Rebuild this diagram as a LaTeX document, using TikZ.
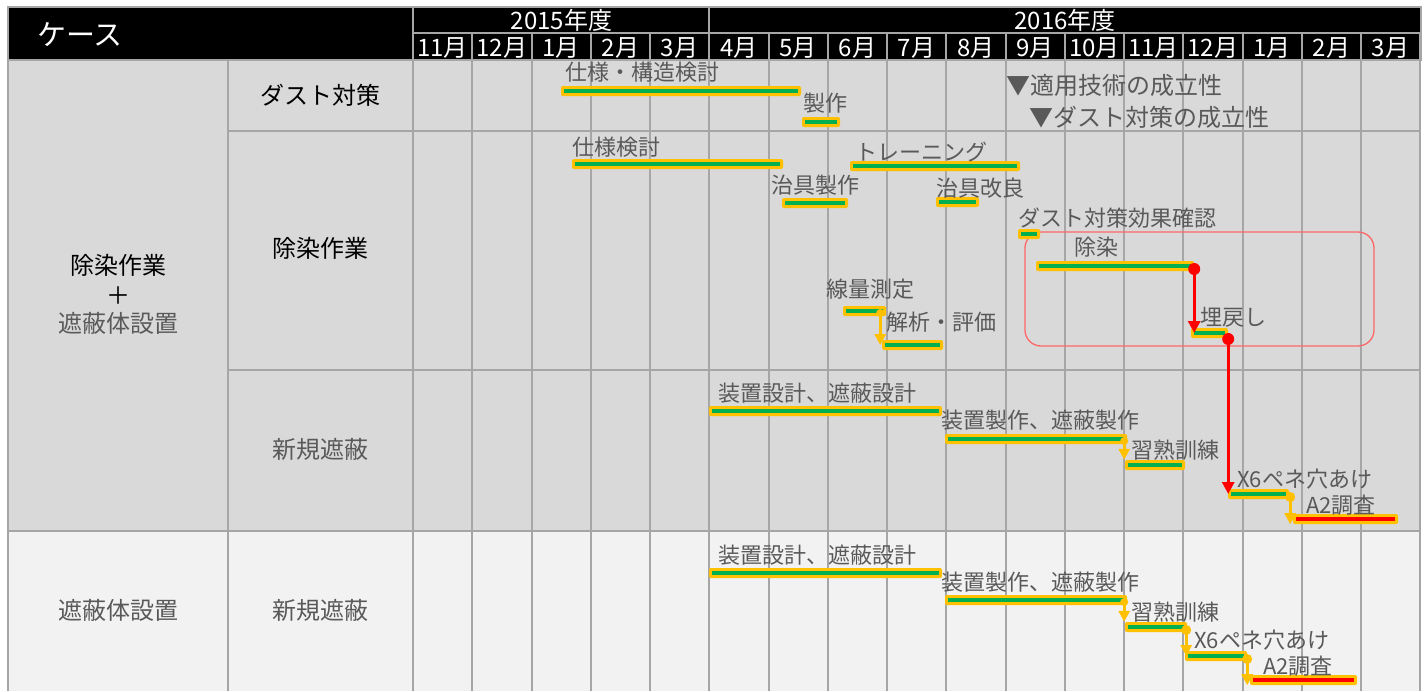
\documentclass[tikz,border=0pt]{standalone}
\usepackage{fontspec}
\setmainfont{Noto Sans CJK JP}
\usetikzlibrary{arrows.meta}
\definecolor{gridc}{HTML}{A6A6A6}
\definecolor{cellA}{HTML}{D9D9D9}
\definecolor{cellB}{HTML}{F2F2F2}
\definecolor{txtgray}{HTML}{595959}
\definecolor{orangeC}{HTML}{FFC000}
\definecolor{greenC}{HTML}{00B050}
\definecolor{redC}{HTML}{FF0000}
\definecolor{boxred}{HTML}{FF6666}
\tikzset{
  gridline/.style={draw=gridc, line width=2pt},
  barbox/.style={rectangle, fill=orangeC, draw=none, rounded corners=2pt, minimum height=10pt, inner sep=0pt},
  lbl/.style={anchor=west, inner sep=0pt, text=txtgray, font=\fontsize{22}{26}\selectfont, text height=19.4pt, text depth=2.6pt},
  mslbl/.style={anchor=west, inner sep=0pt, text=txtgray, font=\fontsize{24}{28}\selectfont, text height=21.1pt, text depth=2.9pt},
  hdr/.style={inner sep=0pt, text=white, font=\fontsize{24}{28}\selectfont, text height=21.1pt, text depth=2.9pt},
  casehdr/.style={anchor=west, inner sep=0pt, text=white, font=\fontsize{29}{33}\selectfont, text height=25.5pt, text depth=3.5pt},
  rowlbl/.style={inner sep=0pt, font=\fontsize{24}{28}\selectfont, text height=21.1pt, text depth=2.9pt},
  redarrow/.style={draw=redC, line width=3pt, -{Triangle[width=12pt,length=12pt]}},
  orarrow/.style={draw=orangeC, line width=3pt, -{Triangle[width=11pt,length=11pt]}},
}
\newcommand\gbar[5]{%
  \node[barbox, minimum width={#3-#2}] (#1) at ({(#2+#3)/2},#4) {};
  \draw[line width=3.5pt, #5] ([xshift=3.5pt]#1.west) -- ([xshift=-3.5pt]#1.east);
}
\begin{document}
\begin{tikzpicture}[x=1pt,y=-1pt]
\useasboundingbox (0,0) rectangle (1426,691);
% backgrounds
\fill[cellA] (8,60) rectangle (1421,531);
\fill[cellB] (8,531) rectangle (1421,691);
\fill[black] (8,7) rectangle (1421,60);
% grid
\foreach \i in {0,...,17} {
  \draw[gridline] ({413+\i*59.25},33) -- ({413+\i*59.25},691);
}
\draw[gridline] (8,7) rectangle (1421,60);
\draw[gridline] (413,7) -- (413,60);
\draw[gridline] (709.25,7) -- (709.25,60);
\draw[gridline] (413,33) -- (1421,33);
\draw[gridline] (8,60) -- (8,691);
\draw[gridline] (228,60) -- (228,691);
\draw[gridline] (228,131) -- (1421,131);
\draw[gridline] (228,370) -- (1421,370);
\draw[gridline] (8,531) -- (1421,531);
% header texts
\node[casehdr] (hcase) at (37,34) {ケース};
\node[hdr] (y2015) at (561.6,20.5) {2015年度};
\node[hdr] (y2016) at (1065.2,20.5) {2016年度};
\foreach \m [count=\k from 0] in {11月,12月,1月,2月,3月,4月,5月,6月,7月,8月,9月,10月,11月,12月,1月,2月,3月} {
  \node[hdr] (m\k) at ({413+(\k+0.5)*59.25},47) {\m};
}
% row labels
\node[rowlbl] (g1a) at (118,265) {除染作業};
\node[rowlbl] (g1b) at (118,295) {＋};
\node[rowlbl, text=txtgray] (g1c) at (118,323) {遮蔽体設置};
\node[rowlbl, text=txtgray] (g2) at (118,610) {遮蔽体設置};
\node[rowlbl] (r1) at (320,95) {ダスト対策};
\node[rowlbl] (r2) at (320,248) {除染作業};
\node[rowlbl, text=txtgray] (r3) at (320,449) {新規遮蔽};
\node[rowlbl, text=txtgray] (r4) at (320,610) {新規遮蔽};
% milestones
\node[mslbl] (ms1) at (1006,85) {▼適用技術の成立性};
\node[mslbl] (ms2) at (1029,117) {▼ダスト対策の成立性};
% red box
\draw[boxred, line width=1.3pt, rounded corners=16pt] (1025,232) rectangle (1374,346);
% bars
\gbar{B1}{561}{801}{91}{greenC}
\gbar{B2}{802}{840}{122}{greenC}
\gbar{B3}{572}{783}{164}{greenC}
\gbar{B4}{850}{1020}{166}{greenC}
\gbar{B5}{782}{848}{203}{greenC}
\gbar{B6}{936}{979}{202}{greenC}
\gbar{B7}{1018}{1040}{234}{greenC}
\gbar{B8}{1036}{1194}{266}{greenC}
\gbar{B9}{1191}{1228}{333}{greenC}
\gbar{B10}{843}{886}{311}{greenC}
\gbar{B11}{882}{943}{345}{greenC}
\gbar{B12}{709}{942}{411}{greenC}
\gbar{B13}{945}{1127}{439}{greenC}
\gbar{B14}{1125}{1185}{465}{greenC}
\gbar{B15}{1228}{1289}{494}{greenC}
\gbar{B16}{1293}{1398}{519}{redC}
\gbar{B17}{709}{942}{573}{greenC}
\gbar{B18}{945}{1127}{600}{greenC}
\gbar{B19}{1125}{1187}{627}{greenC}
\gbar{B20}{1185}{1247}{656}{greenC}
\gbar{B21}{1250}{1357}{680}{redC}
% labels
\node[lbl] (L1) at (565,72) {仕様・構造検討};
\node[lbl] (L2) at (803,103) {製作};
\node[lbl] (L3) at (572,147) {仕様検討};
\node[lbl] (L4) at (855,152) {トレーニング};
\node[lbl] (L5) at (771,185) {治具製作};
\node[lbl] (L6) at (936,188) {治具改良};
\node[lbl] (L7) at (1018,218) {ダスト対策効果確認};
\node[lbl] (L8) at (1074,247) {除染};
\node[lbl] (L9) at (1200,317) {埋戻し};
\node[lbl] (L10) at (826,289) {線量測定};
\node[lbl] (L11) at (886,322) {解析・評価};
\node[lbl] (L12) at (718,393) {装置設計、遮蔽設計};
\node[lbl] (L13) at (941,420) {装置製作、遮蔽製作};
\node[lbl] (L14) at (1131,450) {習熟訓練};
\node[lbl] (L15) at (1237,479) {X6ペネ穴あけ};
\node[lbl] (L16) at (1306,505) {A2調査};
\node[lbl] (L17) at (718,555) {装置設計、遮蔽設計};
\node[lbl] (L18) at (941,582) {装置製作、遮蔽製作};
\node[lbl] (L19) at (1131,612) {習熟訓練};
\node[lbl] (L20) at (1194,640) {X6ペネ穴あけ};
\node[lbl] (L21) at (1263,666) {A2調査};
% orange connectors
\fill[orangeC] ([xshift=-6pt,yshift=-2pt]B10.east) circle (4pt);
\draw[orarrow] ([xshift=-6pt]B10.east) -- ([xshift=-6pt]B10.east |- B11.center);
\fill[orangeC] ([xshift=-3pt,yshift=-2pt]B13.east) circle (4pt);
\draw[orarrow] ([xshift=-3pt]B13.east) -- ([xshift=-3pt]B13.east |- B14.north);
\fill[orangeC] ([xshift=1pt,yshift=-3pt]B15.east) circle (5pt);
\draw[orarrow] ([xshift=1pt]B15.east) -- ([xshift=1pt]B15.east |- B16.south);
\fill[orangeC] ([xshift=-3pt,yshift=-2pt]B18.east) circle (4pt);
\draw[orarrow] ([xshift=-3pt]B18.east) -- ([xshift=-3pt]B18.east |- B19.north);
\fill[orangeC] ([xshift=-1pt,yshift=-3pt]B19.east) circle (5pt);
\draw[orarrow] ([xshift=-1pt]B19.east) -- ([xshift=-1pt]B19.east |- B20.center);
\fill[orangeC] ([yshift=-3pt]B20.east) circle (5pt);
\draw[orarrow] (B20.east) -- (B20.east |- B21.south);
% red connectors
\fill[redC] ([yshift=-3pt]B8.east) circle (6pt);
\draw[redarrow] (B8.east) -- (B8.east |- B9.center);
\fill[redC] ([yshift=-6pt]B9.east) circle (6pt);
\draw[redarrow] (B9.east) -- (B9.east |- B15.center);
\end{tikzpicture}
\end{document}
